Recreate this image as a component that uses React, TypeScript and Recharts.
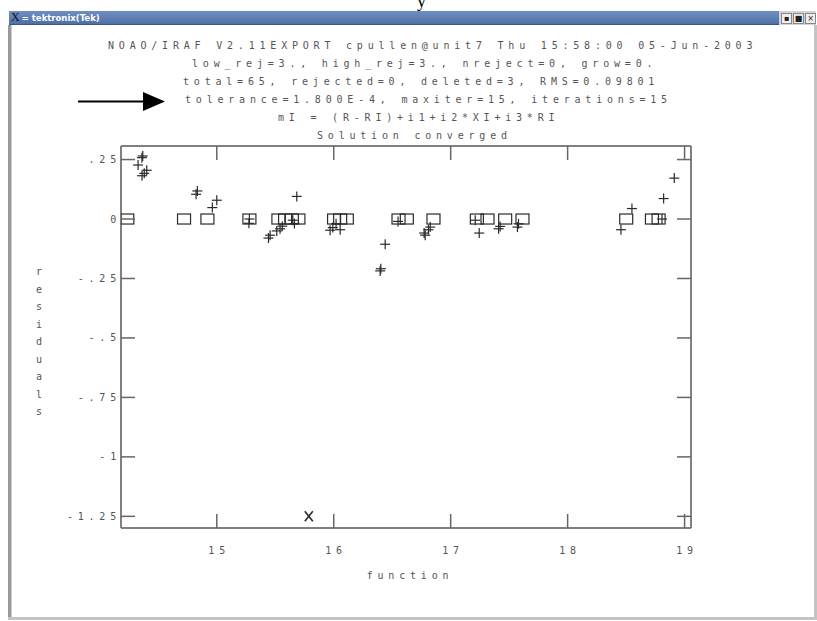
import React from 'react';
import { ScatterChart, Scatter, XAxis, YAxis } from 'recharts';

const headerLines = [
  'NOAO/IRAF V2.11EXPORT cpullen@unit7 Thu 15:58:00 05-Jun-2003',
  'low_rej=3., high_rej=3., nreject=0, grow=0.',
  'total=65, rejected=0, deleted=3, RMS=0.09801',
  'tolerance=1.800E-4, maxiter=15, iterations=15',
  'mI = (R-RI)+i1+i2*XI+i3*RI',
  'Solution converged',
];
const headerLeft = [108, 192, 183, 185, 278, 317];

const xTicks = [15, 16, 17, 18, 19];
const xTickLabels = ['15', '16', '17', '18', '19'];
const yTicks = [0.25, 0, -0.25, -0.5, -0.75, -1, -1.25];
const yTickLabels = ['.25', '0', '-.25', '-.5', '-.75', '-1', '-1.25'];
const xDomain = [14.181, 19.055];
const yDomain = [-1.299, 0.307];

// data points (+)
const plusPoints = [
  { x: 14.367, y: 0.265 }, { x: 14.36, y: 0.258 }, { x: 14.327, y: 0.227 },
  { x: 14.401, y: 0.205 }, { x: 14.38, y: 0.192 }, { x: 14.361, y: 0.182 },
  { x: 14.834, y: 0.118 }, { x: 14.823, y: 0.104 }, { x: 15.0, y: 0.079 },
  { x: 14.962, y: 0.048 }, { x: 15.279, y: 0.0 }, { x: 15.275, y: -0.018 },
  { x: 15.684, y: 0.095 }, { x: 15.442, y: -0.08 }, { x: 15.456, y: -0.068 },
  { x: 15.513, y: -0.05 }, { x: 15.541, y: -0.041 }, { x: 15.56, y: -0.03 },
  { x: 15.664, y: -0.019 }, { x: 15.65, y: -0.005 }, { x: 15.969, y: -0.047 },
  { x: 15.992, y: -0.036 }, { x: 16.055, y: -0.045 }, { x: 16.02, y: -0.02 },
  { x: 16.44, y: -0.106 }, { x: 16.403, y: -0.209 }, { x: 16.397, y: -0.218 },
  { x: 16.55, y: -0.01 }, { x: 16.782, y: -0.068 }, { x: 16.81, y: -0.045 },
  { x: 16.773, y: -0.059 }, { x: 16.825, y: -0.034 }, { x: 17.244, y: -0.059 },
  { x: 17.21, y: -0.005 }, { x: 17.423, y: -0.031 }, { x: 17.41, y: -0.041 },
  { x: 17.571, y: -0.034 }, { x: 17.58, y: -0.02 }, { x: 18.55, y: 0.044 },
  { x: 18.456, y: -0.045 }, { x: 18.807, y: 0.0 }, { x: 18.821, y: 0.086 },
  { x: 18.912, y: 0.172 },
];

// fitted values (boxes)
const boxPoints = [
  { x: 14.235, y: 0 }, { x: 14.72, y: 0 }, { x: 14.92, y: 0 }, { x: 15.279, y: 0 },
  { x: 15.527, y: 0 }, { x: 15.584, y: 0 }, { x: 15.642, y: 0 }, { x: 15.698, y: 0 },
  { x: 16.003, y: 0 }, { x: 16.055, y: 0 }, { x: 16.112, y: 0 }, { x: 16.554, y: 0 },
  { x: 16.625, y: 0 }, { x: 16.853, y: 0 }, { x: 17.224, y: 0 }, { x: 17.315, y: 0 },
  { x: 17.466, y: 0 }, { x: 17.614, y: 0 }, { x: 18.501, y: 0 }, { x: 18.721, y: 0 },
  { x: 18.778, y: 0 },
];

const deletedPoints = [{ x: 15.787, y: -1.25 }];

const INK = '#2a2a2a';
const TICK = '#666';
const monoFont = "'DejaVu Sans Mono', monospace";
const textStyle = { fontFamily: monoFont, fontSize: 10, fill: '#555', letterSpacing: 4.8 };

const PlusShape = (p: any) => (
  <g stroke={INK} strokeWidth={1.2}>
    <line x1={p.cx - 5} y1={p.cy} x2={p.cx + 5} y2={p.cy} />
    <line x1={p.cx} y1={p.cy - 5} x2={p.cx} y2={p.cy + 5} />
  </g>
);

const BoxShape = (p: any) => (
  <rect x={p.cx - 6.5} y={p.cy - 5} width={13} height={10} fill="none" stroke={INK} strokeWidth={1.2} />
);

const CrossShape = (p: any) => (
  <g stroke={INK} strokeWidth={1.6}>
    <line x1={p.cx - 4} y1={p.cy - 5} x2={p.cx + 4} y2={p.cy + 5} />
    <line x1={p.cx + 4} y1={p.cy - 5} x2={p.cx - 4} y2={p.cy + 5} />
  </g>
);

// ticks point into the plot, like the IRAF frame
const BottomTick = (p: any) => (
  <g>
    <line x1={p.x} y1={p.y} x2={p.x} y2={p.y - 14} stroke={TICK} strokeWidth={1.5} />
    <text x={p.x + 2.4} y={p.y + 22} dy="0.35em" textAnchor="middle" {...textStyle}>
      {xTickLabels[xTicks.indexOf(p.payload.value)]}
    </text>
  </g>
);
const LeftTick = (p: any) => (
  <g>
    <line x1={p.x} y1={p.y} x2={p.x + 14} y2={p.y} stroke={TICK} strokeWidth={1.5} />
    <text x={p.x} y={p.y} dy="0.35em" textAnchor="end" {...textStyle}>
      {yTickLabels[yTicks.indexOf(p.payload.value)]}
    </text>
  </g>
);
const TopTick = (p: any) => (
  <line x1={p.x} y1={p.y} x2={p.x} y2={p.y + 14} stroke={TICK} strokeWidth={1.5} />
);
const RightTick = (p: any) => (
  <line x1={p.x} y1={p.y} x2={p.x - 14} y2={p.y} stroke={TICK} strokeWidth={1.5} />
);

const frame = { stroke: '#808080', strokeWidth: 2 };

const App: React.FC = () => {
  return (
    <div style={{ position: 'absolute', left: 0, top: 0, width: 817, height: 621, background: '#fff', overflow: 'hidden' }}>
      {/* stray glyph from the page above */}
      <div style={{ position: 'absolute', left: 417, top: -9, fontFamily: "'Liberation Serif', serif", fontSize: 18 }}>y</div>

      {/* window title bar */}
      <div style={{
        position: 'absolute', left: 9, top: 11, width: 770, height: 13,
        background: 'linear-gradient(#6f8fc4, #4f6fa6)', borderBottom: '1px solid #3b5587',
        color: '#fff', fontFamily: "'DejaVu Sans', sans-serif", fontSize: 8.5, fontWeight: 700, lineHeight: '13px',
      }}>
        <span style={{ marginLeft: 2, fontFamily: "'Liberation Serif', serif", fontWeight: 400, fontSize: 12, color: '#111' }}>X</span>
        <span style={{ marginLeft: 2, marginRight: 3 }}>=</span>tektronix(Tek)
      </div>
      <div style={{ position: 'absolute', left: 779, top: 11, width: 37, height: 14, background: '#d4d4d4' }}>
        {['▪', '■', '×'].map((c, i) => (
          <div key={i} style={{
            position: 'absolute', left: 2 + i * 12, top: 2, width: 9, height: 9, border: '1px solid #888',
            background: '#eee', fontSize: 8, lineHeight: '9px', textAlign: 'center', color: '#222', fontFamily: 'DejaVu Sans',
          }}>{c}</div>
        ))}
      </div>
      {/* window borders */}
      <div style={{ position: 'absolute', left: 8, top: 25, width: 3, height: 594, background: '#9a9a9a', borderRight: '1px solid #d0d0d0' }} />
      <div style={{ position: 'absolute', left: 8, top: 617, width: 809, height: 3, background: '#c4c4c4' }} />
      <div style={{ position: 'absolute', left: 814, top: 25, width: 3, height: 595, background: '#c4c4c4' }} />

      {/* header text */}
      {headerLines.map((t, i) => (
        <div key={i} style={{
          position: 'absolute', left: headerLeft[i], top: 39 + i * 18,
          fontFamily: monoFont, fontSize: 10, letterSpacing: 4.8, color: '#555', whiteSpace: 'pre', lineHeight: '14px',
        }}>{t}</div>
      ))}

      {/* arrow */}
      <svg style={{ position: 'absolute', left: 0, top: 0 }} width={200} height={130}>
        <line x1={78} y1={101.5} x2={146} y2={101.5} stroke="#000" strokeWidth={2} />
        <polygon points="143,92 165,101.5 143,111" fill="#000" />
      </svg>

      {/* y label */}
      <div style={{ position: 'absolute', left: 35, top: 263 }}>
        {'residuals'.split('').map((c, i) => (
          <div key={i} style={{ fontFamily: monoFont, fontSize: 10, color: '#555', height: 17.5, lineHeight: '17.5px', width: 8, textAlign: 'center' }}>{c}</div>
        ))}
      </div>

      <div style={{ position: 'absolute', left: 0, top: 0 }}>
        <ScatterChart width={817} height={621} margin={{ top: 146, right: 126, bottom: 43, left: 61 }}>
          <XAxis xAxisId="bottom" type="number" dataKey="x" domain={xDomain} allowDataOverflow ticks={xTicks} interval={0}
            height={50} tickSize={0} tickMargin={0} tickLine={false} axisLine={frame} tick={BottomTick} />
          <XAxis xAxisId="top" orientation="top" mirror type="number" dataKey="x" domain={xDomain} allowDataOverflow ticks={xTicks} interval={0}
            tickSize={0} tickMargin={0} tickLine={false} axisLine={frame} tick={TopTick} />
          <YAxis yAxisId="left" type="number" dataKey="y" domain={yDomain} allowDataOverflow ticks={yTicks} interval={0}
            width={60} tickSize={0} tickMargin={0} tickLine={false} axisLine={frame} tick={LeftTick} />
          <YAxis yAxisId="right" orientation="right" mirror type="number" dataKey="y" domain={yDomain} allowDataOverflow ticks={yTicks} interval={0}
            tickSize={0} tickMargin={0} tickLine={false} axisLine={frame} tick={RightTick} />
          <Scatter data={boxPoints} xAxisId="bottom" yAxisId="left" shape={BoxShape} isAnimationActive={false} />
          <Scatter data={plusPoints} xAxisId="bottom" yAxisId="left" shape={PlusShape} isAnimationActive={false} />
          <Scatter data={deletedPoints} xAxisId="top" yAxisId="right" shape={CrossShape} isAnimationActive={false} />
        </ScatterChart>
      </div>

      <div style={{ position: 'absolute', left: 0, width: 820, top: 570, textAlign: 'center', fontFamily: monoFont, fontSize: 10, letterSpacing: 4.8, color: '#555' }}>
        function
      </div>
    </div>
  );
};

export default App;
